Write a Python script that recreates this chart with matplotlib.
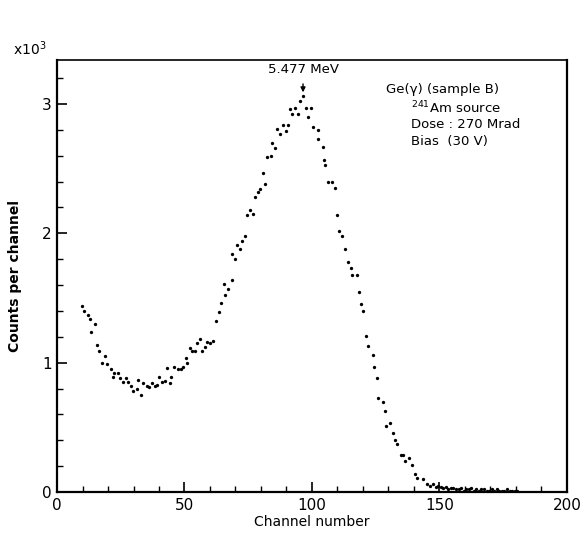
import matplotlib.pyplot as plt
import numpy as np
from matplotlib.ticker import MultipleLocator

# Спектр: номер канала и число отсчётов (в единицах 10^3)
channel = [
    9.9, 10.6, 12.0, 12.9, 13.5, 14.9, 15.7, 16.6, 17.5, 18.8,
    19.7, 21.2, 21.8, 22.5, 23.9, 24.8, 25.8, 26.9, 28.0, 29.0,
    29.9, 31.4, 31.9, 33.1, 33.7, 35.2, 36.2, 37.1, 38.3, 39.2,
    40.0, 41.2, 42.2, 43.3, 44.4, 44.8, 46.0, 47.3, 48.5, 49.5,
    50.5, 51.1, 52.2, 52.9, 54.0, 55.0, 56.0, 57.0, 58.0, 58.8,
    60.0, 61.0, 62.2, 63.5, 64.4, 65.5, 65.9, 67.2, 68.5, 68.7,
    69.7, 70.7, 71.7, 72.7, 73.9, 74.6, 75.8, 76.7, 77.8, 78.7,
    79.6, 80.8, 81.7, 82.5, 83.9, 84.3, 85.5, 86.3, 87.5, 88.7,
    89.8, 90.7, 91.2, 92.3, 93.4, 94.5, 95.4, 96.5, 97.6, 98.4,
    99.7, 100.5, 102.2, 102.5, 104.3, 104.8, 105.2, 106.4, 107.8, 108.9,
    109.9, 110.7, 111.9, 112.9, 114.1, 115.4, 115.9, 117.8, 118.5, 119.3,
    120.1, 121.3, 122.1, 123.8, 124.3, 125.5, 126.1, 127.8, 128.5, 129.1,
    130.5, 131.6, 132.7, 133.2, 134.9, 135.8, 136.5, 138.2, 139.1, 140.4,
    141.4, 143.7, 145.0, 146.3, 147.3, 148.6, 149.5,
    150.5, 151.5, 152.5, 153.5, 154.5, 155.5, 156.5, 157.5, 158.5, 159.5,
    160.5, 161.5, 162.5, 163.5, 164.5, 165.5, 166.5, 167.5, 168.5, 169.5,
    170.5, 171.5, 172.5, 173.5, 174.5, 175.5, 176.5, 177.5, 178.5, 179.5,
    180.5,
]
counts = [
    1.44, 1.40, 1.37, 1.34, 1.24, 1.30, 1.14, 1.09, 1.00, 1.05,
    0.99, 0.95, 0.89, 0.92, 0.92, 0.88, 0.85, 0.88, 0.85, 0.82,
    0.78, 0.80, 0.87, 0.75, 0.84, 0.82, 0.81, 0.84, 0.82, 0.83,
    0.89, 0.85, 0.86, 0.96, 0.84, 0.89, 0.97, 0.95, 0.95, 0.97,
    1.04, 1.00, 1.11, 1.09, 1.09, 1.15, 1.18, 1.09, 1.12, 1.16,
    1.15, 1.17, 1.32, 1.39, 1.46, 1.61, 1.52, 1.57, 1.64, 1.84,
    1.80, 1.91, 1.88, 1.94, 1.98, 2.14, 2.18, 2.15, 2.28, 2.32,
    2.34, 2.47, 2.38, 2.59, 2.60, 2.70, 2.66, 2.81, 2.77, 2.84,
    2.79, 2.84, 2.96, 2.92, 2.97, 2.92, 3.02, 3.06, 2.97, 2.90,
    2.97, 2.82, 2.80, 2.73, 2.67, 2.57, 2.53, 2.40, 2.40, 2.35,
    2.14, 2.02, 1.98, 1.88, 1.78, 1.73, 1.68, 1.68, 1.55, 1.45,
    1.40, 1.21, 1.13, 1.06, 0.97, 0.88, 0.73, 0.70, 0.63, 0.51,
    0.53, 0.46, 0.40, 0.37, 0.29, 0.29, 0.24, 0.26, 0.21, 0.14,
    0.11, 0.10, 0.06, 0.05, 0.06, 0.04, 0.05,
    0.04, 0.03, 0.04, 0.02, 0.03, 0.03, 0.02, 0.02, 0.03, 0.01,
    0.02, 0.02, 0.03, 0.01, 0.02, 0.01, 0.02, 0.02, 0.01, 0.01,
    0.02, 0.01, 0.02, 0.01, 0.01, 0.01, 0.02, 0.01, 0.01, 0.01,
    0.01,
]

peak_channel = 96.5
peak_label = '5.477 MeV'
info_lines = ['Ge(γ) (sample B)', r'$^{241}$Am source', 'Dose : 270 Mrad', 'Bias  (30 V)']

fig = plt.figure(figsize=(5.82, 5.36), dpi=100)
ax = fig.add_axes([0.098, 0.082, 0.876, 0.806])

ax.plot(channel, counts, 'o', color='black', markersize=2.4, markeredgewidth=0)

ax.set_xlim(0, 200)
ax.set_ylim(0, 3.34)
ax.xaxis.set_major_locator(MultipleLocator(50))
ax.xaxis.set_minor_locator(MultipleLocator(10))
ax.yaxis.set_major_locator(MultipleLocator(1))
ax.yaxis.set_minor_locator(MultipleLocator(0.2))
ax.tick_params(which='both', direction='in', top=False, right=False, labelsize=11, pad=4)
ax.tick_params(which='major', length=7, width=1.2)
ax.tick_params(which='minor', length=4, width=1.0)

for side in ['left', 'bottom', 'right']:
    ax.spines[side].set_linewidth(1.6)
ax.spines['top'].set_linewidth(1.2)

ax.set_xlabel('Channel number', fontsize=10, labelpad=2)
ax.set_ylabel('Counts per channel', fontsize=10, fontweight='bold', labelpad=14)
ax.text(-0.02, 1.005, r'x10$^3$', transform=ax.transAxes, ha='right', va='bottom', fontsize=10)

# Стрелка к пику
ax.annotate(peak_label, xy=(peak_channel, 3.09), xytext=(peak_channel, 3.27),
            ha='center', va='center', fontsize=9.5,
            arrowprops=dict(arrowstyle='-|>', color='black', lw=1.0, mutation_scale=7,
                            shrinkA=4, shrinkB=0))

# Подпись условий измерения
ax.text(129, 3.11, info_lines[0], ha='left', va='center', fontsize=9.5)
for i, line in enumerate(info_lines[1:]):
    ax.text(139, 2.97 - 0.13 * i, line, ha='left', va='center', fontsize=9.5)

plt.savefig('out.png', dpi=100)
